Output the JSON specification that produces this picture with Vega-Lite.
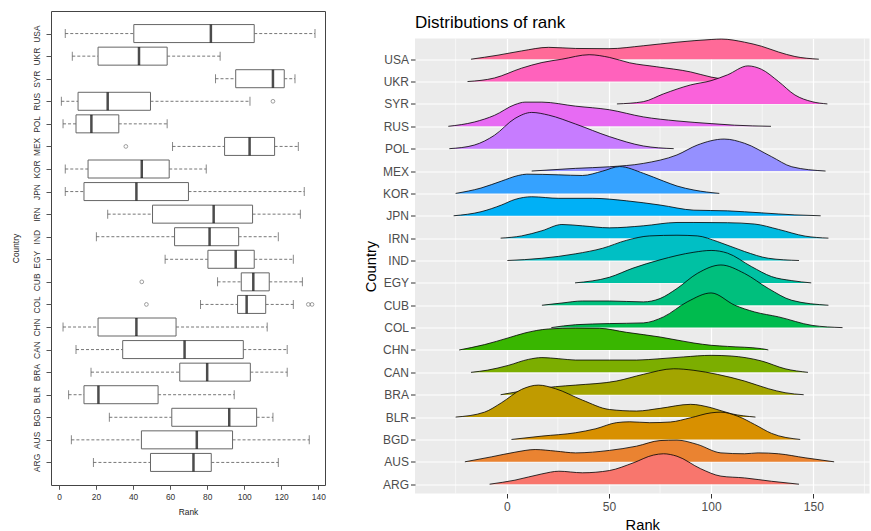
{
  "$schema": "https://vega.github.io/schema/vega-lite/v6.json",
  "background": "white",
  "padding": {"left": 10, "top": 10, "right": 0, "bottom": 0},
  "spacing": 37,
  "config": {"font": "Liberation Sans", "axis": {"titleFontWeight": "normal", "labelOverlap": false}},
  "datasets": {
    "box": [
      {"c": "USA", "lo": 3.4, "q1": 40.4, "med": 82.0, "q3": 105.4, "hi": 138.2},
      {"c": "UKR", "lo": 7.2, "q1": 21.1, "med": 43.2, "q3": 58.4, "hi": 87.0},
      {"c": "SYR", "lo": 84.5, "q1": 95.4, "med": 115.5, "q3": 121.6, "hi": 127.4},
      {"c": "RUS", "lo": 1.3, "q1": 10.3, "med": 26.3, "q3": 49.4, "hi": 103.1},
      {"c": "POL", "lo": 2.2, "q1": 9.2, "med": 17.5, "q3": 32.3, "hi": 58.4},
      {"c": "MEX", "lo": 61.3, "q1": 89.4, "med": 102.9, "q3": 116.4, "hi": 129.2},
      {"c": "KOR", "lo": 3.4, "q1": 15.7, "med": 44.7, "q3": 59.5, "hi": 79.5},
      {"c": "JPN", "lo": 3.4, "q1": 13.5, "med": 41.8, "q3": 69.9, "hi": 132.4},
      {"c": "IRN", "lo": 26.3, "q1": 50.5, "med": 83.5, "q3": 104.5, "hi": 130.3},
      {"c": "IND", "lo": 20.2, "q1": 62.4, "med": 81.3, "q3": 97.0, "hi": 118.4},
      {"c": "EGY", "lo": 57.3, "q1": 80.4, "med": 95.4, "q3": 105.4, "hi": 126.5},
      {"c": "CUB", "lo": 85.6, "q1": 98.4, "med": 104.9, "q3": 113.5, "hi": 131.4},
      {"c": "COL", "lo": 76.4, "q1": 96.4, "med": 101.3, "q3": 111.6, "hi": 126.5},
      {"c": "CHN", "lo": 2.2, "q1": 21.1, "med": 41.8, "q3": 63.2, "hi": 112.4},
      {"c": "CAN", "lo": 9.2, "q1": 34.4, "med": 67.8, "q3": 99.5, "hi": 123.2},
      {"c": "BRA", "lo": 17.3, "q1": 65.2, "med": 80.0, "q3": 103.3, "hi": 123.2},
      {"c": "BLR", "lo": 5.2, "q1": 13.5, "med": 21.3, "q3": 53.5, "hi": 94.6},
      {"c": "BGD", "lo": 27.2, "q1": 60.9, "med": 91.9, "q3": 106.7, "hi": 115.5},
      {"c": "AUS", "lo": 6.7, "q1": 44.5, "med": 74.4, "q3": 93.7, "hi": 135.1},
      {"c": "ARG", "lo": 18.6, "q1": 49.4, "med": 72.6, "q3": 82.2, "hi": 118.4}
    ],
    "out": [
      {"c": "RUS", "rank": 115.5},
      {"c": "MEX", "rank": 36.1},
      {"c": "CUB", "rank": 44.7},
      {"c": "COL", "rank": 47.2},
      {"c": "COL", "rank": 134.6},
      {"c": "COL", "rank": 136.6}
    ],
    "grid": [{"x": -25}, {"x": 25}, {"x": 75}, {"x": 125}, {"x": 175}],
    "dens": [
      {"c":"USA","x":-17.5,"d":0},{"c":"USA","x":-4.3,"d":0.18},{"c":"USA","x":7.3,"d":0.37},{"c":"USA","x":20.5,"d":0.53},{"c":"USA","x":33.7,"d":0.48},{"c":"USA","x":50,"d":0.47},{"c":"USA","x":66.8,"d":0.6},{"c":"USA","x":83.3,"d":0.76},{"c":"USA","x":100,"d":0.88},{"c":"USA","x":105,"d":0.9},{"c":"USA","x":116.4,"d":0.76},{"c":"USA","x":124.6,"d":0.58},{"c":"USA","x":133,"d":0.32},{"c":"USA","x":141,"d":0.12},{"c":"USA","x":152.7,"d":0},
      {"c":"UKR","x":-19.2,"d":0},{"c":"UKR","x":-6,"d":0.16},{"c":"UKR","x":7.3,"d":0.6},{"c":"UKR","x":17.2,"d":0.85},{"c":"UKR","x":27,"d":1.0},{"c":"UKR","x":40.3,"d":1.2},{"c":"UKR","x":50.2,"d":1.08},{"c":"UKR","x":60,"d":0.84},{"c":"UKR","x":73.4,"d":0.66},{"c":"UKR","x":90,"d":0.43},{"c":"UKR","x":100,"d":0.2},{"c":"UKR","x":110,"d":0.06},{"c":"UKR","x":120,"d":0},
      {"c":"SYR","x":53.9,"d":0},{"c":"SYR","x":66.8,"d":0.1},{"c":"SYR","x":76.7,"d":0.45},{"c":"SYR","x":90,"d":0.85},{"c":"SYR","x":100,"d":1.04},{"c":"SYR","x":108,"d":1.3},{"c":"SYR","x":118,"d":1.7},{"c":"SYR","x":124.6,"d":1.55},{"c":"SYR","x":133,"d":1.0},{"c":"SYR","x":141,"d":0.4},{"c":"SYR","x":149.4,"d":0.1},{"c":"SYR","x":156.9,"d":0},
      {"c":"RUS","x":-28.6,"d":0},{"c":"RUS","x":-15.9,"d":0.19},{"c":"RUS","x":-6,"d":0.49},{"c":"RUS","x":4,"d":0.97},{"c":"RUS","x":8.9,"d":1.08},{"c":"RUS","x":17.2,"d":1.08},{"c":"RUS","x":33.7,"d":0.9},{"c":"RUS","x":50.2,"d":0.74},{"c":"RUS","x":66.8,"d":0.42},{"c":"RUS","x":83.3,"d":0.24},{"c":"RUS","x":100,"d":0.12},{"c":"RUS","x":111.4,"d":0.05},{"c":"RUS","x":129.3,"d":0},
      {"c":"POL","x":-28.1,"d":0},{"c":"POL","x":-15.9,"d":0.16},{"c":"POL","x":-6,"d":0.6},{"c":"POL","x":4,"d":1.35},{"c":"POL","x":12.2,"d":1.62},{"c":"POL","x":20.5,"d":1.5},{"c":"POL","x":33.7,"d":1.1},{"c":"POL","x":50.2,"d":0.54},{"c":"POL","x":66.8,"d":0.12},{"c":"POL","x":81.7,"d":0},
      {"c":"MEX","x":12.2,"d":0},{"c":"MEX","x":33.7,"d":0.12},{"c":"MEX","x":50.2,"d":0.19},{"c":"MEX","x":66.8,"d":0.34},{"c":"MEX","x":83.3,"d":0.72},{"c":"MEX","x":93.2,"d":1.16},{"c":"MEX","x":106.4,"d":1.43},{"c":"MEX","x":116.4,"d":1.24},{"c":"MEX","x":129.6,"d":0.64},{"c":"MEX","x":139.5,"d":0.19},{"c":"MEX","x":156,"d":0},
      {"c":"KOR","x":-25,"d":0},{"c":"KOR","x":-12.6,"d":0.24},{"c":"KOR","x":-2.6,"d":0.55},{"c":"KOR","x":5.6,"d":0.8},{"c":"KOR","x":9.8,"d":0.86},{"c":"KOR","x":25.5,"d":0.83},{"c":"KOR","x":37,"d":0.8},{"c":"KOR","x":47,"d":1.0},{"c":"KOR","x":55.2,"d":1.2},{"c":"KOR","x":66.8,"d":0.9},{"c":"KOR","x":76.7,"d":0.55},{"c":"KOR","x":83.3,"d":0.33},{"c":"KOR","x":91.6,"d":0.15},{"c":"KOR","x":104,"d":0},
      {"c":"JPN","x":-26,"d":0},{"c":"JPN","x":-12.6,"d":0.18},{"c":"JPN","x":-2.6,"d":0.48},{"c":"JPN","x":4,"d":0.73},{"c":"JPN","x":12.2,"d":0.85},{"c":"JPN","x":25.5,"d":0.78},{"c":"JPN","x":42,"d":0.78},{"c":"JPN","x":58.5,"d":0.67},{"c":"JPN","x":75,"d":0.48},{"c":"JPN","x":91.6,"d":0.25},{"c":"JPN","x":108,"d":0.22},{"c":"JPN","x":124.6,"d":0.13},{"c":"JPN","x":141,"d":0.04},{"c":"JPN","x":153.6,"d":0},
      {"c":"IRN","x":-3,"d":0},{"c":"IRN","x":7.3,"d":0.1},{"c":"IRN","x":17.2,"d":0.33},{"c":"IRN","x":27,"d":0.61},{"c":"IRN","x":37,"d":0.55},{"c":"IRN","x":50.2,"d":0.46},{"c":"IRN","x":66.8,"d":0.55},{"c":"IRN","x":83.3,"d":0.7},{"c":"IRN","x":91.6,"d":0.7},{"c":"IRN","x":108,"d":0.69},{"c":"IRN","x":121.3,"d":0.63},{"c":"IRN","x":133,"d":0.39},{"c":"IRN","x":146,"d":0.09},{"c":"IRN","x":157.4,"d":0},
      {"c":"IND","x":0.3,"d":0},{"c":"IND","x":17.2,"d":0.1},{"c":"IND","x":33.7,"d":0.3},{"c":"IND","x":47,"d":0.55},{"c":"IND","x":58.5,"d":0.9},{"c":"IND","x":70,"d":1.1},{"c":"IND","x":83.3,"d":1.13},{"c":"IND","x":93.2,"d":1.1},{"c":"IND","x":103,"d":0.85},{"c":"IND","x":116.4,"d":0.4},{"c":"IND","x":128,"d":0.1},{"c":"IND","x":143,"d":0},
      {"c":"EGY","x":33.4,"d":0},{"c":"EGY","x":50.2,"d":0.25},{"c":"EGY","x":61.8,"d":0.66},{"c":"EGY","x":75,"d":1.03},{"c":"EGY","x":91.6,"d":1.37},{"c":"EGY","x":100,"d":1.45},{"c":"EGY","x":108,"d":1.33},{"c":"EGY","x":119.7,"d":0.73},{"c":"EGY","x":129.6,"d":0.28},{"c":"EGY","x":139.5,"d":0.1},{"c":"EGY","x":149,"d":0},
      {"c":"CUB","x":17.2,"d":0},{"c":"CUB","x":27,"d":0.1},{"c":"CUB","x":37,"d":0.19},{"c":"CUB","x":50.2,"d":0.19},{"c":"CUB","x":66.8,"d":0.15},{"c":"CUB","x":75,"d":0.3},{"c":"CUB","x":83.3,"d":0.75},{"c":"CUB","x":93.2,"d":1.42},{"c":"CUB","x":104.8,"d":1.8},{"c":"CUB","x":116.4,"d":1.42},{"c":"CUB","x":128,"d":0.75},{"c":"CUB","x":139.5,"d":0.22},{"c":"CUB","x":157.4,"d":0},
      {"c":"COL","x":21.8,"d":0},{"c":"COL","x":33.7,"d":0.13},{"c":"COL","x":50.2,"d":0.18},{"c":"COL","x":66.8,"d":0.21},{"c":"COL","x":76.7,"d":0.48},{"c":"COL","x":88.3,"d":1.15},{"c":"COL","x":100,"d":1.55},{"c":"COL","x":111.6,"d":1.0},{"c":"COL","x":121.3,"d":0.7},{"c":"COL","x":133,"d":0.48},{"c":"COL","x":149.4,"d":0.1},{"c":"COL","x":164.3,"d":0},
      {"c":"CHN","x":-23.3,"d":0},{"c":"CHN","x":-10.9,"d":0.24},{"c":"CHN","x":0.7,"d":0.54},{"c":"CHN","x":8.9,"d":0.76},{"c":"CHN","x":20.5,"d":0.94},{"c":"CHN","x":33.7,"d":0.98},{"c":"CHN","x":45.3,"d":0.97},{"c":"CHN","x":58.5,"d":0.79},{"c":"CHN","x":75,"d":0.58},{"c":"CHN","x":91.6,"d":0.31},{"c":"CHN","x":100,"d":0.21},{"c":"CHN","x":108,"d":0.16},{"c":"CHN","x":124.6,"d":0.06},{"c":"CHN","x":128,"d":0},
      {"c":"CAN","x":-17.5,"d":0},{"c":"CAN","x":-9.3,"d":0.1},{"c":"CAN","x":0.7,"d":0.31},{"c":"CAN","x":10.6,"d":0.58},{"c":"CAN","x":17.2,"d":0.66},{"c":"CAN","x":25.5,"d":0.61},{"c":"CAN","x":33.7,"d":0.55},{"c":"CAN","x":50.2,"d":0.55},{"c":"CAN","x":63.5,"d":0.55},{"c":"CAN","x":75,"d":0.61},{"c":"CAN","x":86.6,"d":0.69},{"c":"CAN","x":100,"d":0.76},{"c":"CAN","x":109.8,"d":0.73},{"c":"CAN","x":124.6,"d":0.51},{"c":"CAN","x":136.2,"d":0.16},{"c":"CAN","x":147.4,"d":0},
      {"c":"BRA","x":-3,"d":0},{"c":"BRA","x":10,"d":0.2},{"c":"BRA","x":23.8,"d":0.36},{"c":"BRA","x":33.7,"d":0.43},{"c":"BRA","x":53.6,"d":0.61},{"c":"BRA","x":66.8,"d":0.91},{"c":"BRA","x":81.7,"d":1.16},{"c":"BRA","x":91.6,"d":1.09},{"c":"BRA","x":103,"d":0.91},{"c":"BRA","x":116.4,"d":0.61},{"c":"BRA","x":128,"d":0.27},{"c":"BRA","x":136.2,"d":0.09},{"c":"BRA","x":145.3,"d":0},
      {"c":"BLR","x":-25,"d":0},{"c":"BLR","x":-10.9,"d":0.22},{"c":"BLR","x":-2.6,"d":0.64},{"c":"BLR","x":7.3,"d":1.24},{"c":"BLR","x":15.5,"d":1.43},{"c":"BLR","x":23.8,"d":1.27},{"c":"BLR","x":37,"d":0.76},{"c":"BLR","x":50.2,"d":0.34},{"c":"BLR","x":63.5,"d":0.27},{"c":"BLR","x":75,"d":0.39},{"c":"BLR","x":90,"d":0.57},{"c":"BLR","x":100,"d":0.42},{"c":"BLR","x":109.8,"d":0.15},{"c":"BLR","x":121.7,"d":0},
      {"c":"BGD","x":2.3,"d":0},{"c":"BGD","x":17.2,"d":0.15},{"c":"BGD","x":33.7,"d":0.3},{"c":"BGD","x":43.6,"d":0.48},{"c":"BGD","x":53.6,"d":0.75},{"c":"BGD","x":60.2,"d":0.79},{"c":"BGD","x":70,"d":0.75},{"c":"BGD","x":80,"d":0.78},{"c":"BGD","x":90,"d":0.97},{"c":"BGD","x":100,"d":1.19},{"c":"BGD","x":104.8,"d":1.22},{"c":"BGD","x":113,"d":1.04},{"c":"BGD","x":121.3,"d":0.67},{"c":"BGD","x":129.6,"d":0.27},{"c":"BGD","x":143.6,"d":0},
      {"c":"AUS","x":-20.5,"d":0},{"c":"AUS","x":-7.6,"d":0.22},{"c":"AUS","x":4,"d":0.43},{"c":"AUS","x":13.9,"d":0.55},{"c":"AUS","x":23.8,"d":0.48},{"c":"AUS","x":33.7,"d":0.4},{"c":"AUS","x":50.2,"d":0.51},{"c":"AUS","x":63.5,"d":0.7},{"c":"AUS","x":75,"d":0.95},{"c":"AUS","x":83.3,"d":0.97},{"c":"AUS","x":93.2,"d":0.78},{"c":"AUS","x":104.8,"d":0.4},{"c":"AUS","x":116.4,"d":0.36},{"c":"AUS","x":123,"d":0.4},{"c":"AUS","x":133,"d":0.36},{"c":"AUS","x":146,"d":0.18},{"c":"AUS","x":160.2,"d":0},
      {"c":"ARG","x":-8.4,"d":0},{"c":"ARG","x":4,"d":0.18},{"c":"ARG","x":17.2,"d":0.46},{"c":"ARG","x":25.5,"d":0.58},{"c":"ARG","x":37,"d":0.51},{"c":"ARG","x":50.2,"d":0.61},{"c":"ARG","x":61.8,"d":0.95},{"c":"ARG","x":71.7,"d":1.3},{"c":"ARG","x":76.7,"d":1.36},{"c":"ARG","x":83.3,"d":1.25},{"c":"ARG","x":94.9,"d":0.69},{"c":"ARG","x":104.8,"d":0.36},{"c":"ARG","x":116.4,"d":0.28},{"c":"ARG","x":129.6,"d":0.13},{"c":"ARG","x":143,"d":0}
    ]
  },
  "hconcat": [
    {
      "width": 274,
      "height": 474,
      "view": {"fill": "white", "stroke": "#444", "strokeWidth": 1},
      "encoding": {
        "y": {
          "field": "c", "type": "nominal",
          "scale": {"type": "point", "padding": 1.2825, "domain": ["USA","UKR","SYR","RUS","POL","MEX","KOR","JPN","IRN","IND","EGY","CUB","COL","CHN","CAN","BRA","BLR","BGD","AUS","ARG"]},
          "axis": {"title": "Country", "titleFontSize": 8.4, "titleColor": "#222", "titlePadding": 12, "labelAngle": 270, "labelAlign": "center", "labelBaseline": "bottom", "labelFontSize": 8.4, "labelColor": "#333", "labelPadding": 5, "labelOverlap": false, "tickSize": 5, "tickColor": "#555", "domain": false, "grid": false}
        }
      },
      "layer": [
        {
          "data": {"name": "box"},
          "mark": {"type": "rule", "color": "#777", "strokeDash": [3, 2], "strokeWidth": 1},
          "encoding": {
            "x": {"field": "lo", "type": "quantitative", "scale": {"domain": [-4.3, 143.6], "nice": false, "zero": false},
              "axis": {"title": "Rank", "titleFontSize": 8.4, "titleColor": "#222", "titlePadding": 7, "values": [0, 20, 40, 60, 80, 100, 120, 140], "labelOverlap": false, "labelFlush": false, "labelFontSize": 8.4, "labelColor": "#333", "labelPadding": 3, "tickSize": 4.3, "tickColor": "#555", "domain": false, "grid": false}},
            "x2": {"field": "q1"}
          }
        },
        {
          "data": {"name": "box"},
          "mark": {"type": "rule", "color": "#777", "strokeDash": [3, 2], "strokeWidth": 1},
          "encoding": {"x": {"field": "q3", "type": "quantitative",
              "axis": {"title": "Rank", "titleFontSize": 8.4, "titleColor": "#222", "titlePadding": 7, "values": [0, 20, 40, 60, 80, 100, 120, 140], "labelOverlap": false, "labelFlush": false, "labelFontSize": 8.4, "labelColor": "#333", "labelPadding": 3, "tickSize": 4.3, "tickColor": "#555", "domain": false, "grid": false}},
            "x2": {"field": "hi"}}
        },
        {
          "data": {"name": "box"},
          "mark": {"type": "tick", "color": "#555", "size": 9, "thickness": 1},
          "encoding": {"x": {"field": "lo", "type": "quantitative",
              "axis": {"title": "Rank", "titleFontSize": 8.4, "titleColor": "#222", "titlePadding": 7, "values": [0, 20, 40, 60, 80, 100, 120, 140], "labelOverlap": false, "labelFlush": false, "labelFontSize": 8.4, "labelColor": "#333", "labelPadding": 3, "tickSize": 4.3, "tickColor": "#555", "domain": false, "grid": false}}}
        },
        {
          "data": {"name": "box"},
          "mark": {"type": "tick", "color": "#555", "size": 9, "thickness": 1},
          "encoding": {"x": {"field": "hi", "type": "quantitative",
              "axis": {"title": "Rank", "titleFontSize": 8.4, "titleColor": "#222", "titlePadding": 7, "values": [0, 20, 40, 60, 80, 100, 120, 140], "labelOverlap": false, "labelFlush": false, "labelFontSize": 8.4, "labelColor": "#333", "labelPadding": 3, "tickSize": 4.3, "tickColor": "#555", "domain": false, "grid": false}}}
        },
        {
          "data": {"name": "box"},
          "mark": {"type": "bar", "fill": "white", "stroke": "#666", "strokeWidth": 1, "size": 18},
          "encoding": {"x": {"field": "q1", "type": "quantitative",
              "axis": {"title": "Rank", "titleFontSize": 8.4, "titleColor": "#222", "titlePadding": 7, "values": [0, 20, 40, 60, 80, 100, 120, 140], "labelOverlap": false, "labelFlush": false, "labelFontSize": 8.4, "labelColor": "#333", "labelPadding": 3, "tickSize": 4.3, "tickColor": "#555", "domain": false, "grid": false}},
            "x2": {"field": "q3"}}
        },
        {
          "data": {"name": "box"},
          "mark": {"type": "tick", "color": "black", "size": 18, "thickness": 2.5},
          "encoding": {"x": {"field": "med", "type": "quantitative",
              "axis": {"title": "Rank", "titleFontSize": 8.4, "titleColor": "#222", "titlePadding": 7, "values": [0, 20, 40, 60, 80, 100, 120, 140], "labelOverlap": false, "labelFlush": false, "labelFontSize": 8.4, "labelColor": "#333", "labelPadding": 3, "tickSize": 4.3, "tickColor": "#555", "domain": false, "grid": false}}}
        },
        {
          "data": {"name": "out"},
          "mark": {"type": "point", "shape": "circle", "filled": false, "size": 14, "color": "#555", "strokeWidth": 0.8},
          "encoding": {"x": {"field": "rank", "type": "quantitative",
              "axis": {"title": "Rank", "titleFontSize": 8.4, "titleColor": "#222", "titlePadding": 7, "values": [0, 20, 40, 60, 80, 100, 120, 140], "labelOverlap": false, "labelFlush": false, "labelFontSize": 8.4, "labelColor": "#333", "labelPadding": 3, "tickSize": 4.3, "tickColor": "#555", "domain": false, "grid": false}}}
        }
      ]
    },
    {
      "spacing": 1.5,
      "vconcat": [
        {
          "width": 454.5,
          "height": 1,
          "view": {"stroke": null, "fill": null},
          "data": {"values": [{"k": 0}]},
          "mark": {"type": "point", "opacity": 0, "size": 0},
          "encoding": {}
        },
        {
          "width": 454.5,
          "height": 455,
          "view": {"fill": "#EBEBEB", "stroke": null},
          "title": {"text": "Distributions of rank", "anchor": "start", "frame": "group", "fontSize": 17, "fontWeight": "normal", "color": "black", "offset": 5.5},
          "encoding": {
            "x": {"field": "x", "type": "quantitative", "scale": {"domain": [-44.9, 177.5], "nice": false, "zero": false},
              "axis": {"title": "Rank", "titleFontSize": 14.7, "titleColor": "black", "titlePadding": 5, "values": [0, 50, 100, 150], "labelFontSize": 12, "labelColor": "#4D4D4D", "labelPadding": 3, "tickSize": 4.5, "tickColor": "#333", "domain": false, "grid": true, "gridColor": "white", "gridWidth": 1.2}}
          },
          "layer": [
            {
              "data": {"name": "grid"},
              "mark": {"type": "rule", "color": "white", "strokeWidth": 0.6}
            },
            {
              "data": {"name": "dens"},
              "transform": [{"calculate": "indexof(['ARG','AUS','BGD','BLR','BRA','CAN','CHN','COL','CUB','EGY','IND','IRN','JPN','KOR','MEX','POL','RUS','SYR','UKR','USA'], datum.c) + 1 + datum.d", "as": "top"}],
              "mark": {"type": "line", "stroke": "black", "strokeWidth": 0.8, "interpolate": "monotone"},
              "encoding": {
                "y": {"field": "top", "type": "quantitative", "scale": {"domain": [0.584, 20.925], "nice": false, "zero": false},
                  "axis": {"title": "Country", "titleFontSize": 14.7, "titleColor": "black", "titlePadding": 4, "values": [1,2,3,4,5,6,7,8,9,10,11,12,13,14,15,16,17,18,19,20], "labelExpr": "['ARG','AUS','BGD','BLR','BRA','CAN','CHN','COL','CUB','EGY','IND','IRN','JPN','KOR','MEX','POL','RUS','SYR','UKR','USA'][datum.value - 1]", "labelFontSize": 12, "labelColor": "#4D4D4D", "labelPadding": 2, "tickSize": 4.5, "tickColor": "#333", "domain": false, "grid": true, "gridColor": "white", "gridWidth": 1.2}},
                "fill": {"field": "c", "type": "nominal",
                  "scale": {"domain": ["ARG","AUS","BGD","BLR","BRA","CAN","CHN","COL","CUB","EGY","IND","IRN","JPN","KOR","MEX","POL","RUS","SYR","UKR","USA"],
                    "range": ["#F8766D","#EA8331","#D89000","#C09B00","#A3A500","#7CAE00","#39B600","#00BB4E","#00BF7D","#00C1A3","#00BFC4","#00BAE0","#00B0F6","#35A2FF","#9590FF","#C77CFF","#E76BF3","#FA62DB","#FF62BC","#FF6A98"]},
                  "legend": null}
              }
            }
          ]
        }
      ]
    }
  ]
}
